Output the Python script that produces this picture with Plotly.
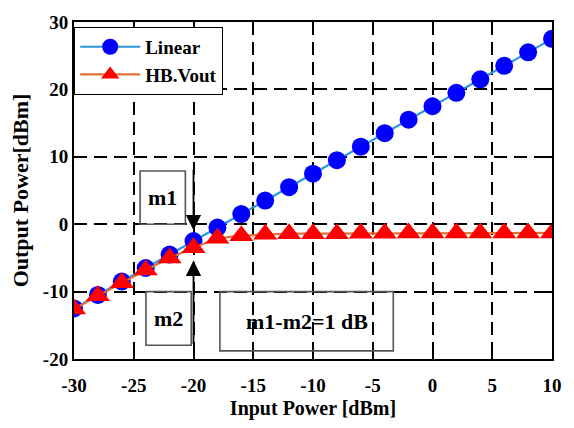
import plotly.graph_objects as go

x_in = [-30, -28, -26, -24, -22, -20, -18, -16, -14, -12, -10, -8, -6, -4, -2, 0, 2, 4, 6, 8, 10]
linear = [-12.5, -10.5, -8.5, -6.5, -4.5, -2.5, -0.5, 1.5, 3.5, 5.5, 7.5, 9.5, 11.5, 13.5, 15.5, 17.5, 19.5, 21.5, 23.5, 25.5, 27.5]
hb_vout = [-12.6, -10.6, -8.7, -6.8, -5.0, -3.5, -2.1, -1.7, -1.5, -1.4, -1.4, -1.4, -1.35, -1.35, -1.3, -1.3, -1.3, -1.3, -1.3, -1.3, -1.3]

x_ticks = [-30, -25, -20, -15, -10, -5, 0, 5, 10]
y_ticks = [-20, -10, 0, 10, 20, 30]

FONT = "Liberation Serif"

fig = go.Figure()
fig.add_trace(go.Scatter(
    x=x_in, y=linear, name="Linear", mode="lines+markers",
    line=dict(color="#2a97d4", width=2.2),
    marker=dict(symbol="circle", size=18, color="#0000ff"),
))
fig.add_trace(go.Scatter(
    x=x_in, y=hb_vout, name="HB.Vout", mode="lines+markers",
    line=dict(color="#e0703a", width=2.2),
    marker=dict(symbol="triangle-up", size=21, color="#ff0000"),
))

box_color = "#555555"
boxes = [(-24.47, 7.9, -20.68, 0.0), (-23.98, -10.0, -20.19, -17.97), (-17.79, -10.0, -3.28, -18.8)]
for x0, y0, x1, y1 in boxes:
    fig.add_shape(type="rect", x0=x0, y0=y0, x1=x1, y1=y1, xref="x", yref="y",
                  line=dict(color=box_color, width=1.6), fillcolor="rgba(0,0,0,0)", layer="above")

txtfont = dict(family=FONT, size=22, color="black", weight="bold")
fig.add_annotation(x=-22.58, y=4.0, text="m1", showarrow=False, font=txtfont)
fig.add_annotation(x=-22.08, y=-14.0, text="m2", showarrow=False, font=txtfont)
fig.add_annotation(x=-10.5, y=-14.4, text="m1-m2=1 dB", showarrow=False, font=txtfont)

fig.add_annotation(x=-20, y=-0.9, ax=-20, ay=8.3, xref="x", yref="y", axref="x", ayref="y",
                   text="", showarrow=True, arrowhead=2, arrowsize=1.7, arrowwidth=1.8, arrowcolor="black")
fig.add_annotation(x=-20, y=-5.4, ax=-20, ay=-18.0, xref="x", yref="y", axref="x", ayref="y",
                   text="", showarrow=True, arrowhead=2, arrowsize=1.7, arrowwidth=1.8, arrowcolor="black")

axis_common = dict(
    showline=True, linecolor="black", linewidth=2, mirror="ticks",
    ticks="inside", ticklen=7, tickwidth=1.8, tickcolor="black",
    showgrid=True, gridcolor="black", gridwidth=1.7, griddash="13px,7px",
    zeroline=False,
    tickfont=dict(family=FONT, size=19, color="black", weight="bold"),
)

fig.update_xaxes(range=[-30, 10], tickvals=x_ticks, ticktext=[str(v) for v in x_ticks],
                 ticklabelstandoff=8,
                 title=dict(text="Input Power [dBm]", font=dict(family=FONT, size=20, color="black", weight="bold"), standoff=6),
                 **axis_common)
fig.update_yaxes(range=[-20, 30], tickvals=y_ticks, ticktext=[str(v) for v in y_ticks],
                 title=dict(text="Output Power[dBm]", font=dict(family=FONT, size=22, color="black", weight="bold"), standoff=8),
                 **axis_common)

fig.update_layout(
    width=574, height=428,
    margin=dict(l=74, r=15, t=15, b=67),
    plot_bgcolor="white", paper_bgcolor="white",
    legend=dict(x=0.0, y=0.986, xanchor="left", yanchor="top",
                bgcolor="white", bordercolor="black", borderwidth=1.2,
                font=dict(family=FONT, size=19, color="black", weight="bold"),
                tracegroupgap=0, itemwidth=60),
    showlegend=True,
)

fig.write_html("out.html")
